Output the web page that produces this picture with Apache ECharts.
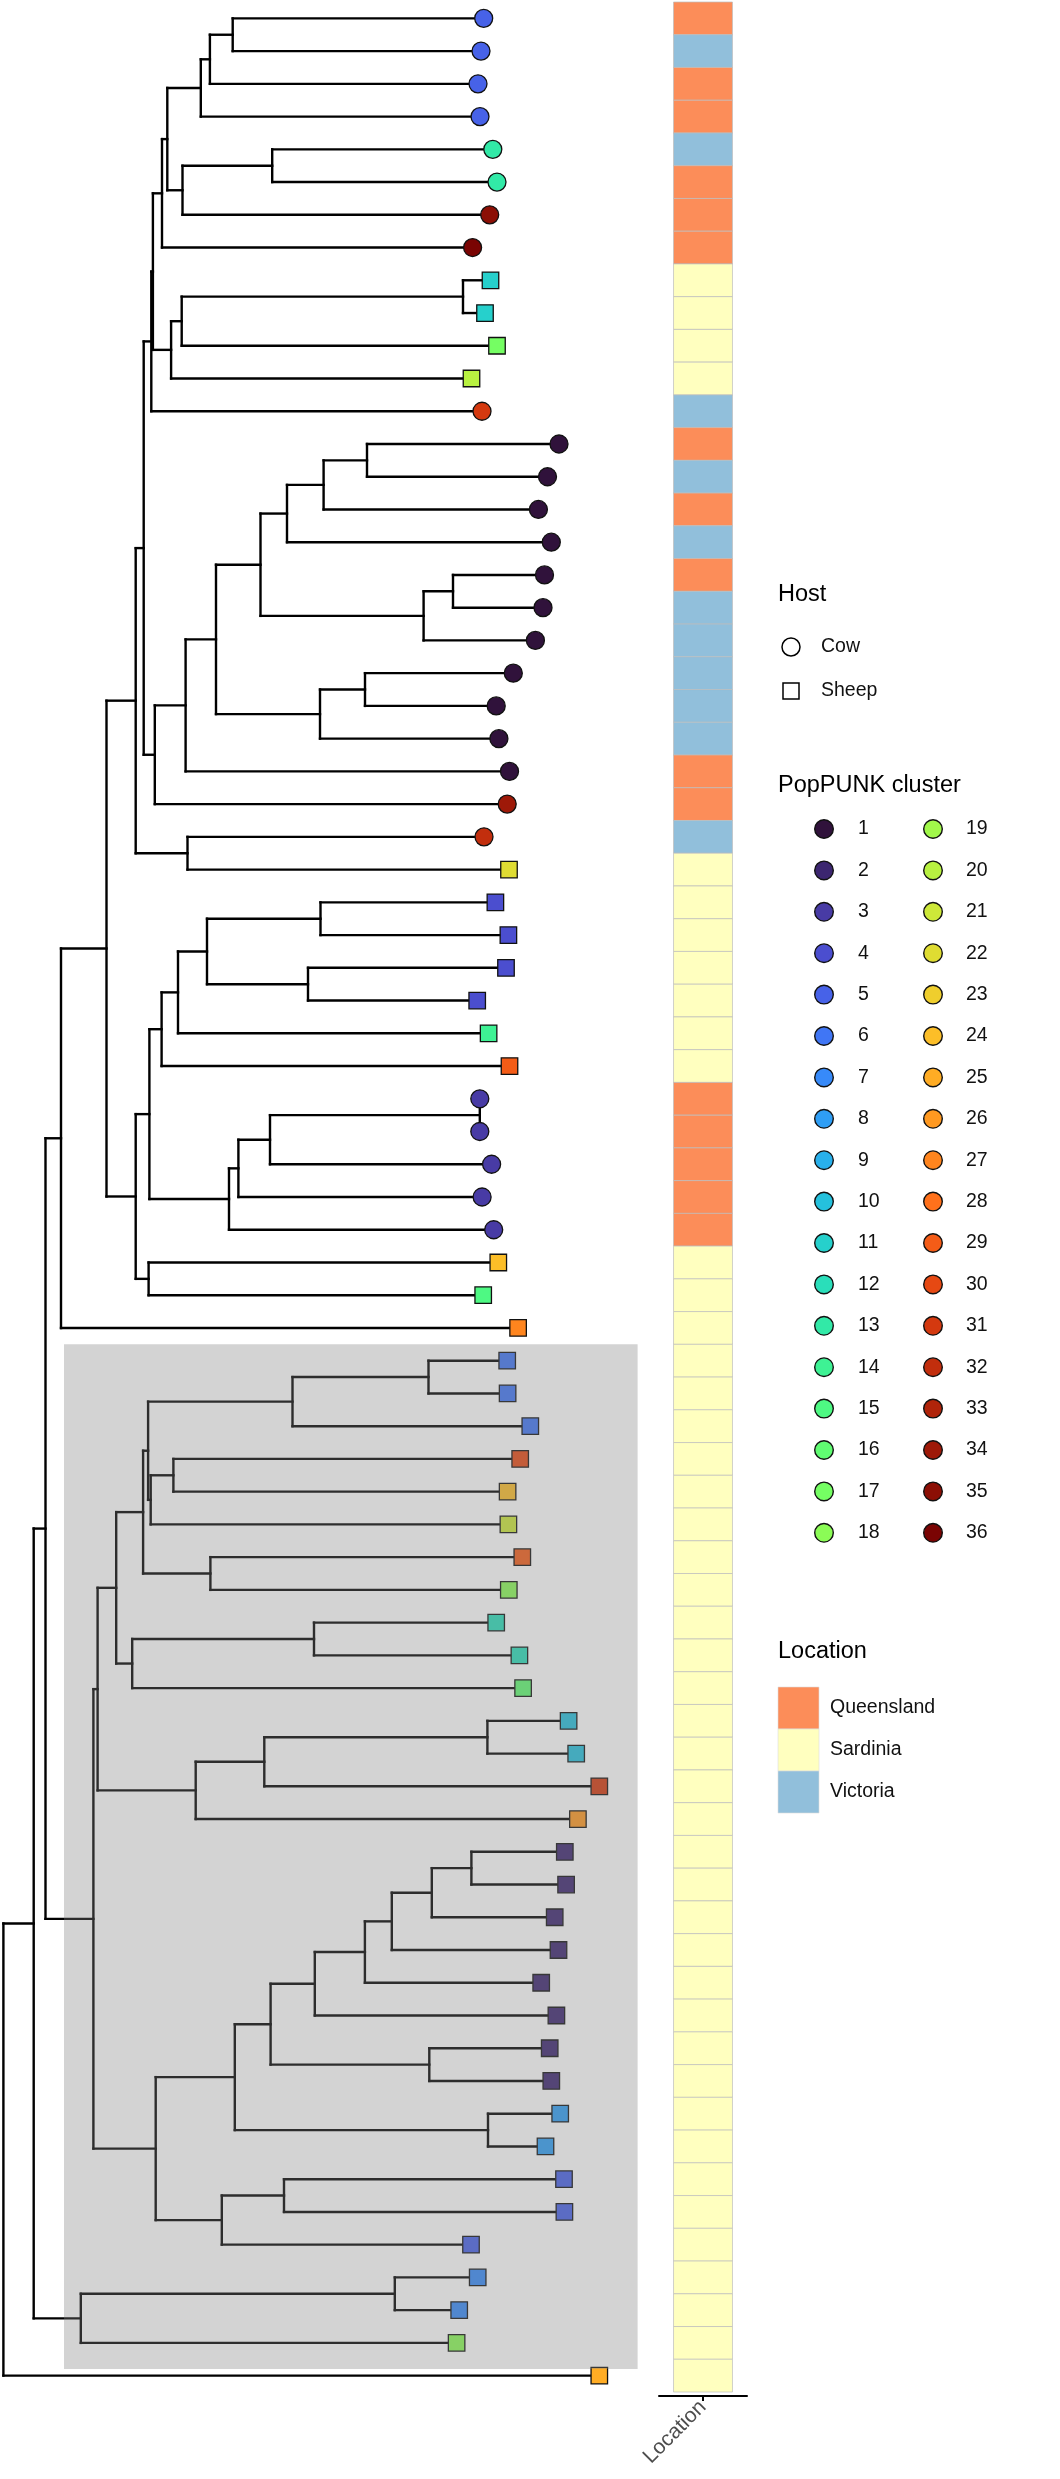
<!DOCTYPE html>
<html><head><meta charset="utf-8">
<script src="https://cdn.jsdelivr.net/npm/echarts@6/dist/echarts.min.js"></script>
<style>html,body{margin:0;padding:0;background:#fff}#c{width:1060px;height:2479px}</style>
</head><body><div id="c"></div>
<script>
// ---------------- DATA ----------------
// Tip order top -> bottom (1..73); depth = distance from root (tree units)
const tipDepth = [480.3,477.6,474.6,476.6,489.4,493.6,486.3,469.2,487.1,481.6,493.6,468.1,478.6,
  555.6,544.1,535.0,547.9,541.1,539.6,532.0,509.9,492.8,495.5,506.1,503.8,480.6,505.6,
  492.0,505.0,502.6,473.8,485.2,506.1,476.4,476.4,488.2,478.7,490.3,494.9,479.8,514.7,
  503.8,504.2,526.9,516.8,504.2,505.0,518.9,505.4,492.8,516.0,519.7,565.2,572.8,595.9,574.5,
  561.4,562.7,551.3,555.1,537.8,553.0,546.3,547.9,556.8,542.1,560.6,561.0,467.6,474.3,455.8,453.2,595.9];
const tipCluster = [5,5,5,5,13,13,35,36,11,11,17,20,31,
  1,1,1,1,1,1,1,1,1,1,1,34,32,22,
  4,4,4,4,14,29,3,3,3,3,3,24,15,27,
  6,6,6,30,24,21,29,18,12,12,16,10,10,31,26,
  2,2,2,2,2,2,2,2,8,8,5,5,5,7,7,18,25];
const tipHost = ['Cow','Cow','Cow','Cow','Cow','Cow','Cow','Cow','Sheep','Sheep','Sheep','Sheep',
  'Cow','Cow','Cow','Cow','Cow','Cow','Cow','Cow','Cow','Cow','Cow','Cow','Cow','Cow',
  'Sheep','Sheep','Sheep','Sheep','Sheep','Sheep','Sheep','Cow','Cow','Cow','Cow','Cow',
  'Sheep','Sheep','Sheep','Sheep','Sheep','Sheep','Sheep','Sheep','Sheep','Sheep','Sheep','Sheep',
  'Sheep','Sheep','Sheep','Sheep','Sheep','Sheep','Sheep','Sheep','Sheep','Sheep','Sheep','Sheep',
  'Sheep','Sheep','Sheep','Sheep','Sheep','Sheep','Sheep','Sheep','Sheep','Sheep','Sheep'];
const tipLocation = ['Queensland','Victoria','Queensland','Queensland','Victoria','Queensland','Queensland','Queensland',
  'Sardinia','Sardinia','Sardinia','Sardinia','Victoria','Queensland','Victoria','Queensland','Victoria','Queensland',
  'Victoria','Victoria','Victoria','Victoria','Victoria','Queensland','Queensland','Victoria',
  'Sardinia','Sardinia','Sardinia','Sardinia','Sardinia','Sardinia','Sardinia',
  'Queensland','Queensland','Queensland','Queensland','Queensland',
  'Sardinia','Sardinia','Sardinia','Sardinia','Sardinia','Sardinia','Sardinia','Sardinia','Sardinia','Sardinia',
  'Sardinia','Sardinia','Sardinia','Sardinia','Sardinia','Sardinia','Sardinia','Sardinia','Sardinia','Sardinia',
  'Sardinia','Sardinia','Sardinia','Sardinia','Sardinia','Sardinia','Sardinia','Sardinia','Sardinia','Sardinia',
  'Sardinia','Sardinia','Sardinia','Sardinia','Sardinia'];
// internal nodes: [name, depth, children]  (numbers = tip index)
const internalNodes = [
  ['root',0,['QQ',73]], ['QQ',30.3,['OO','RR']], ['OO',42.1,['NN','PP']], ['NN',57.6,['AA',41]],
  ['AA',103.1,['Y','BB']], ['Y',132.3,['M','Z']], ['M',140.3,['L','N']], ['L',147.9,['K',13]],
  ['K',149.5,['G','J']], ['G',158.6,['F',8]], ['F',163.9,['C','E']], ['C',197.4,['B',4]],
  ['B',206.5,['A',3]], ['A',229.3,[1,2]], ['E',179.1,['D',7]], ['D',268.8,[5,6]],
  ['J',167.7,['I',12]], ['I',178.3,['H',11]], ['H',459.6,[9,10]],
  ['N',151.4,['O',25]], ['O',182.2,['P',24]], ['P',212.6,['Q','R']], ['Q',257.1,['S','T']],
  ['S',283.6,['U',17]], ['U',320.2,['V',16]], ['V',363.6,[14,15]], ['T',420.2,['W',20]],
  ['W',449.6,[18,19]], ['R',316.6,['X',23]], ['X',361.6,[21,22]], ['Z',184.1,[26,27]],
  ['BB',132.3,['CC','MM']], ['CC',146.0,['DD','EE']], ['DD',158.2,['FF',33]], ['FF',174.6,['GG',32]],
  ['GG',203.6,['HH','II']], ['HH',317.1,[28,29]], ['II',304.6,[30,31]], ['EE',225.6,['JJ',38]],
  ['JJ',235.0,['KK',37]], ['KK',266.6,['LL',36]], ['LL',476.4,[34,35]], ['MM',145.2,[39,40]],
  ['PP',90.0,['a12','b1']], ['a12',94.2,['a9','a13']], ['a9',112.8,['a8','a10']], ['a8',139.7,['a6','a7']],
  ['a6',144.7,['a2','a5']], ['a2',289.1,['a1',44]], ['a1',425.1,[42,43]], ['a5',147.3,['a4',47]],
  ['a4',170.0,[45,46]], ['a7',207.0,[48,49]], ['a10',128.8,['a11',52]], ['a11',310.6,[50,51]],
  ['a13',192.3,['a14',56]], ['a14',260.9,['a15',55]], ['a15',484.0,[53,54]],
  ['b1',152.3,['b2','b3']], ['b2',231.4,['b4','b5']], ['b4',267.2,['b6','b7']], ['b6',311.4,['b8',62]],
  ['b8',361.5,['b9',61]], ['b9',388.4,['b10',60]], ['b10',428.4,['b11',59]], ['b11',468.0,[57,58]],
  ['b7',425.9,[63,64]], ['b5',484.6,[65,66]], ['b3',218.4,['b12',69]], ['b12',280.6,[67,68]],
  ['RR',77.4,['b13',72]], ['b13',391.4,[70,71]]
];
const hilightTips = [42, 72];
const hilightDepth = [60.6, 634.2];
const hostLevels = ['Cow','Sheep'];
const clusterLevels = [1,2,3,4,5,6,7,8,9,10,11,12,13,14,15,16,17,18,19,20,21,22,23,24,25,26,27,28,29,30,31,32,33,34,35,36];
const locationLevels = ['Queensland','Sardinia','Victoria'];
const locationTitle = 'Location';

// ---------------- STYLE HELPERS ----------------
const FONT = '"Liberation Sans", Arial, Helvetica, sans-serif';
const locColor = {Queensland:'#FC8D59', Sardinia:'#FFFFBF', Victoria:'#91BFDB'};
function turboPoly(t){
  const r = 0.13572138 + t*(4.61539260 + t*(-42.66032258 + t*(132.13108234 + t*(-152.94239396 + t*59.28637943))));
  const g = 0.09140261 + t*(2.19418839 + t*(4.84296658 + t*(-14.18503333 + t*(4.27729857 + t*2.82956604))));
  const b = 0.10667330 + t*(12.64194608 + t*(-60.58204836 + t*(110.36276771 + t*(-89.90310912 + t*27.34824973))));
  return [r*255, g*255, b*255].map(v => Math.max(0, Math.min(255, v)));
}
function lerp(a,b,f){ return a.map((v,i)=> v + (b[i]-v)*f); }
function turbo(t){
  let c;
  if (t < 0.06) c = lerp([48,18,59], turboPoly(0.06), t/0.06);
  else if (t > 0.85) c = lerp(turboPoly(0.85), [122,4,3], (t-0.85)/0.15);
  else c = turboPoly(t);
  return 'rgb(' + c.map(v=>Math.round(v)).join(',') + ')';
}
const clusterColor = k => turbo((k-1)/(clusterLevels.length-1));

// ---------------- TREE LAYOUT (from data) ----------------
const nodeDepth = {}, nodeKids = {};
internalNodes.forEach(([n,d,k]) => { nodeDepth[n]=d; nodeKids[n]=k; });
const yCache = {};
function depthOf(c){ return typeof c === 'number' ? tipDepth[c-1] : nodeDepth[c]; }
function yOf(c){
  if (typeof c === 'number') return c - 0.5;
  if (yCache[c] !== undefined) return yCache[c];
  const ys = nodeKids[c].map(yOf);
  return (yCache[c] = ys.reduce((a,b)=>a+b,0)/ys.length);
}
const segments = [];
internalNodes.forEach(([n,d,kids]) => {
  const ys = kids.map(yOf);
  segments.push([d, Math.min(...ys), d, Math.max(...ys)]);
  kids.forEach((c,i) => segments.push([d, ys[i], depthOf(c), ys[i]]));
});
const tipData = tipDepth.map((d,i) => [d, i+0.5, tipCluster[i], hostLevels.indexOf(tipHost[i])]);
const tileData = tipLocation.map((l,i) => [0, i, locationLevels.indexOf(l)]);

// ---------------- LEGEND (graphic) ----------------
const LX = 778;                 // legend titles
const HK = 791, HT = 821;       // host key centre / label
const CK1 = 824, CT1 = 858, CK2 = 933, CT2 = 966;   // cluster columns
const LT = 830;                 // location labels
const g = [];
function title(txt, y){ g.push({type:'text', style:{text:txt, x:LX, y:y, font:'23.5px '+FONT, fill:'#000', textVerticalAlign:'middle', verticalAlign:'middle'}}); }
function label(txt, x, y){ g.push({type:'text', style:{text:txt, x:x, y:y, font:'19.5px '+FONT, fill:'#111', textVerticalAlign:'middle', verticalAlign:'middle'}}); }
title('Host', 595);
hostLevels.forEach((h,i) => {
  const y = 647 + i*44;
  if (h === 'Cow') g.push({type:'circle', shape:{cx:HK, cy:y, r:9}, style:{fill:'none', stroke:'#000', lineWidth:1.5}});
  else g.push({type:'rect', shape:{x:HK-8, y:y-8, width:16, height:16}, style:{fill:'none', stroke:'#000', lineWidth:1.5}});
  label(h, HT, y);
});
title('PopPUNK cluster', 786);
clusterLevels.forEach((k,i) => {
  const col = i < 18 ? 0 : 1, row = i % 18;
  const y = 829 + row*41.4;
  g.push({type:'circle', shape:{cx: col? CK2: CK1, cy:y, r:9.3}, style:{fill:clusterColor(k), stroke:'#111', lineWidth:1.4}});
  label(String(k), col? CT2: CT1, y);
});
title(locationTitle, 1652);
locationLevels.forEach((l,i) => {
  const y0 = 1687 + i*42;
  g.push({type:'rect', shape:{x:LX, y:y0, width:41, height:42}, style:{fill:locColor[l], stroke:'rgba(220,220,220,0.6)', lineWidth:1}});
  label(l, LT, y0 + 21);
});

// ---------------- CHART ----------------
const chart = echarts.init(document.getElementById('c'), null, {renderer:'canvas'});
chart.setOption({
  animation: false,
  backgroundColor: '#fff',
  grid: [
    {left:3.4, width:596, top:2, height:2390},
    {left:659, width:88, top:2, height:2390}
  ],
  xAxis: [
    {gridIndex:0, type:'value', min:0, max:596, show:false},
    {gridIndex:1, type:'category', data:[locationTitle], offset:4,
     axisLine:{show:true, lineStyle:{color:'#000', width:2}},
     axisTick:{show:true, alignWithLabel:true, length:5, lineStyle:{color:'#000', width:2}},
     axisLabel:{rotate:45, fontSize:21, color:'#4d4d4d', margin:8, fontFamily:FONT},
     splitLine:{show:false}}
  ],
  yAxis: [
    {gridIndex:0, type:'value', min:0, max:73, inverse:true, show:false},
    {gridIndex:1, type:'category', data:tipDepth.map((_,i)=>String(i+1)), inverse:true, show:false}
  ],
  graphic: g,
  series: [
    {type:'custom', name:'tree', xAxisIndex:0, yAxisIndex:0, z:2, clip:false, silent:true,
     data: segments, encode:{x:[0,2], y:[1,3]},
     renderItem: (p, api) => {
       const a = api.coord([api.value(0), api.value(1)]);
       const b = api.coord([api.value(2), api.value(3)]);
       return {type:'line', shape:{x1:a[0], y1:a[1], x2:b[0], y2:b[1]},
               style:{stroke:'#000', lineWidth:2.4, lineCap:'square'}};
     }},
    {type:'scatter', name:'tips', xAxisIndex:0, yAxisIndex:0, z:3, clip:false, silent:true,
     data: tipData,
     symbol: v => v[3] === 0 ? 'circle' : 'rect',
     symbolSize: v => v[3] === 0 ? 18 : 16.5,
     itemStyle:{color: p => clusterColor(p.value[2]), borderColor:'#111', borderWidth:1.3, opacity:1}},
    {type:'custom', name:'hilight', xAxisIndex:0, yAxisIndex:0, z:10, clip:false, silent:true,
     data: [[hilightDepth[0], hilightTips[0]-1, hilightDepth[1], hilightTips[1]+0.3]],
     renderItem: (p, api) => {
       const a = api.coord([api.value(0), api.value(1)]);
       const b = api.coord([api.value(2), api.value(3)]);
       return {type:'rect', shape:{x:a[0], y:a[1], width:b[0]-a[0], height:b[1]-a[1]},
               style:{fill:'rgba(128,128,128,0.35)'}};
     }},
    {type:'custom', name:'Location', xAxisIndex:1, yAxisIndex:1, z:2, clip:false, silent:true,
     data: tileData,
     renderItem: (p, api) => {
       const c = api.coord([api.value(0), api.value(1)]);
       const s = api.size([1, 1]);
       const w = s[0]*0.67, h = s[1];
       return {type:'rect', shape:{x:c[0]-w/2, y:c[1]-h/2, width:w, height:h},
               style:{fill: locColor[locationLevels[api.value(2)]], stroke:'rgba(190,190,190,0.7)', lineWidth:1}};
     }}
  ]
});
</script>
</body></html>
